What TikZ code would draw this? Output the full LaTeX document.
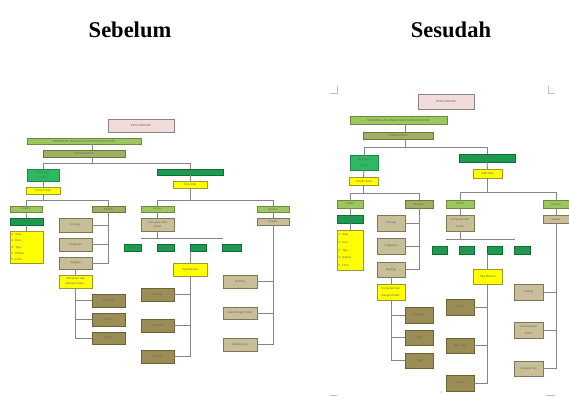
\documentclass[tikz,border=0pt]{standalone}
\usepackage{fontspec}
\setmainfont{Liberation Serif}
\newfontfamily\smallsans{Liberation Sans}
\definecolor{pinkc}{HTML}{F2DCDB}\definecolor{pinkb}{HTML}{8C8282}
\definecolor{lgc}{HTML}{9CC65E}\definecolor{lgb}{HTML}{6E8B3D}
\definecolor{ogc}{HTML}{A0AF63}\definecolor{ogb}{HTML}{6B7A3A}
\definecolor{bgc}{HTML}{2DB862}\definecolor{bgb}{HTML}{1F8A47}
\definecolor{dgc}{HTML}{1A9B4F}\definecolor{dgb}{HTML}{0E6E36}
\definecolor{ylc}{HTML}{FFFF00}\definecolor{ylb}{HTML}{9C9A2E}
\definecolor{tnc}{HTML}{C8BF98}\definecolor{tnb}{HTML}{7E7658}
\definecolor{dolc}{HTML}{9A8D55}\definecolor{dolb}{HTML}{6B6237}
\definecolor{lnc}{HTML}{858585}
\newcommand\lfont{\smallsans\fontsize{2.9}{4.6}\selectfont\color{black!60}}
\newcommand\rfont{\smallsans\fontsize{2.9}{6.8}\selectfont\color{black!60}}
\newcommand\obox[7]{\node[#2,minimum width={((#5)-(#3))*1pt},minimum height={((#6)-(#4))*1pt}] (#1) at ({((#3)+(#5))/2},{((#4)+(#6))/2}) {#7};}
\tikzset{
 bxs/.style={draw, line width=0.6pt, inner sep=0.4pt, outer sep=0pt, align=center},
 pk/.style={bxs, fill=pinkc, draw=pinkb},
 lg/.style={bxs, fill=lgc, draw=lgb},
 og/.style={bxs, fill=ogc, draw=ogb},
 bg/.style={bxs, fill=bgc, draw=bgb},
 dg/.style={bxs, fill=dgc, draw=dgb},
 yl/.style={bxs, fill=ylc, draw=ylb},
 tn/.style={bxs, fill=tnc, draw=tnb},
 dol/.style={bxs, fill=dolc, draw=dolb},
 ln/.style={draw=lnc, line width=0.9pt},
 pgmark/.style={draw=black!25, line width=0.5pt},
 ttl/.style={font=\bfseries\fontsize{22.5}{26}\selectfont, anchor=base, inner sep=0pt},
}
\begin{document}
\begin{tikzpicture}[x=1pt,y=-1pt]
\fill[white] (0,0) rectangle (569,399);
\useasboundingbox (0,0) rectangle (569,399);
\node[ttl] (T1) at (130,37) {Sebelum};
\node[ttl] (T2) at (451,37) {Sesudah};

% ================= LEFT (Sebelum) =================
\begin{scope}[every node/.append style={font=\lfont}]
\obox{L-peta}{pk}{108}{119}{174}{132}{PETA KONSEP}
\obox{L-g1}{lg}{27}{138}{141}{144}{MENGENAL BILANGAN DAN BANGUN DATAR}
\obox{L-g2}{og}{43}{150}{125}{157}{3 Materi Pokok}
\obox{L-c1}{bg}{27}{169}{59}{181}{Bilangan\\Cacah}
\obox{L-c2}{dg}{157}{169}{223}{175}{Bangun Datar}
\obox{L-y1}{yl}{26}{187}{60}{194}{Contoh Soal}
\obox{L-y2}{yl}{173}{181}{207}{188}{Sifat-Sifat}
\obox{L-a}{lg}{10}{206}{42}{212}{Angka}
\obox{L-b}{og}{92}{206}{125}{212}{Bentuk}
\obox{L-a2}{dg}{10}{218}{43}{225}{Lambang}
\obox{L-list}{yl,align=left,text width=30pt,font=\smallsans\fontsize{2.9}{6.3}\selectfont\color{black!60}}{10}{231}{43}{263}{1. Satu\\2. Dua\\3. Tiga\\4. Empat\\5. Lima}
\obox{L-t1}{tn}{59}{218}{92}{232}{Persegi}
\obox{L-t2}{tn}{59}{238}{92}{251}{Lingkaran}
\obox{L-t3}{tn}{59}{257}{92}{269}{Segitiga}
\obox{L-yk}{yl,align=left}{59}{275}{92}{288}{Kumpulan dari\\Bangun Datar}
\obox{L-d1}{dol}{92}{294}{125}{307}{Panjang}
\obox{L-d2}{dol}{92}{313}{125}{326}{Lebar}
\obox{L-d3}{dol}{92}{332}{125}{344}{Tinggi}
\obox{L-ra}{lg}{141}{206}{174}{212}{Unsur}
\obox{L-rb}{lg}{257}{206}{289}{212}{Ukuran}
\obox{L-rat}{tn}{141}{218}{174}{231}{Kumpulan dari\\Sudut}
\obox{L-rbt}{tn}{257}{218}{289}{225}{Satuan}
\obox{L-q1}{dg}{124}{244}{141}{251}{Sisi}
\obox{L-q2}{dg}{157}{244}{174}{251}{Sudut}
\obox{L-q3}{dg}{190}{244}{206}{251}{Titik}
\obox{L-q4}{dg}{222}{244}{241}{251}{Diagonal}
\obox{L-ym}{yl}{173}{263}{207}{276}{Tiga Macam}
\obox{L-rd1}{dol}{141}{288}{174}{301}{Lancip}
\obox{L-rd2}{dol}{141}{319}{174}{332}{Siku-siku}
\obox{L-rd3}{dol}{141}{350}{174}{363}{Tumpul}
\obox{L-rt1}{tn}{223}{275}{257}{288}{Keliling}
\obox{L-rt2}{tn}{223}{307}{257}{319}{Luas Bangun Datar}
\obox{L-rt3}{tn}{223}{338}{257}{351}{Panjang Sisi}
\end{scope}
\coordinate (L-j0) at (92,163);
\coordinate (L-j1) at (0,200);
\coordinate (L-h1) at (141,238);
\coordinate (L-h2) at (223,238);
\draw[ln] (L-g1.south -| L-j0) -- (L-g2.north -| L-j0);
\draw[ln] (L-g2.south -| L-j0) -- (L-j0);
\draw[ln] (L-c1.north) -- (L-c1.north |- L-j0) -- (L-c2.north |- L-j0) -- (L-c2.north);
\draw[ln] (L-c1.south) -- (L-y1.north);
\draw[ln] (L-c2.south) -- (L-y2.north);
\draw[ln] (L-y1.south) -- (L-y1.south |- L-j1);
\draw[ln] (L-a.north) -- (L-a.north |- L-j1) -- (L-b.north |- L-j1) -- (L-b.north);
\draw[ln] (L-a.south) -- (L-a2.north);
\draw[ln] (L-a2.south) -- (L-list.north);
\draw[ln] (L-b.south) -- (L-b.south |- L-t3.east) -- (L-t3.east);
\draw[ln] (L-t1.east) -- (L-t1.east -| L-b.south);
\draw[ln] (L-t2.east) -- (L-t2.east -| L-b.south);
\draw[ln] (L-t3.south) -- (L-yk.north);
\draw[ln] (L-yk.south) -- (L-yk.south |- L-d3.west) -- (L-d3.west);
\draw[ln] (L-d1.west -| L-yk.south) -- (L-d1.west);
\draw[ln] (L-d2.west -| L-yk.south) -- (L-d2.west);
\draw[ln] (L-y2.south) -- (L-y2.south |- L-j1);
\draw[ln] (L-ra.north) -- (L-ra.north |- L-j1) -- (L-rb.north |- L-j1) -- (L-rb.north);
\draw[ln] (L-ra.south) -- (L-rat.north);
\draw[ln] (L-rb.south) -- (L-rbt.north);
\draw[ln] (L-rat.south) -- (L-rat.south |- L-h1);
\draw[ln] (L-h1) -- (L-h2);
\draw[ln] (L-ym.north) -- (L-ym.north |- L-q3.south);
\draw[ln] (L-ym.south) -- (L-ym.south |- L-rd3.east) -- (L-rd3.east);
\draw[ln] (L-rd1.east) -- (L-rd1.east -| L-ym.south);
\draw[ln] (L-rd2.east) -- (L-rd2.east -| L-ym.south);
\draw[ln] (L-rbt.south) -- (L-rbt.south |- L-rt3.east) -- (L-rt3.east);
\draw[ln] (L-rt1.east) -- (L-rt1.east -| L-rbt.south);
\draw[ln] (L-rt2.east) -- (L-rt2.east -| L-rbt.south);

% ================= RIGHT (Sesudah) =================
\draw[pgmark] (337,86) -- (337,93) -- (330,93);
\draw[pgmark] (548,86) -- (548,93) -- (555,93);
\draw[pgmark] (330,395) -- (337,395);
\draw[pgmark] (546,395) -- (555,395);
\node[font=\smallsans\fontsize{2.6}{3}\selectfont\color{black!45}, inner sep=0pt] (R-pg) at (441,393) {4};
\begin{scope}[every node/.append style={font=\rfont}]
\obox{R-peta}{pk}{418}{94}{474}{109}{PETA KONSEP}
\obox{R-g1}{lg}{350}{116}{447}{124}{MENGENAL BILANGAN DAN BANGUN DATAR}
\obox{R-g2}{og}{363}{132}{433}{139}{3 Materi Pokok}
\obox{R-c1}{bg}{350}{155}{378}{170}{Bilangan\\Cacah}
\obox{R-c2}{dg}{459}{154}{515}{162}{Bangun Datar}
\obox{R-y1}{yl}{349}{177}{378}{185}{Contoh Soal}
\obox{R-y2}{yl}{473}{169}{502}{178}{Sifat-Sifat}
\obox{R-a}{lg}{337}{200}{363}{208}{Angka}
\obox{R-b}{og}{405}{200}{433}{208}{Bentuk}
\obox{R-a2}{dg}{337}{215}{363}{223}{Lambang}
\obox{R-list}{yl,align=left,text width=23pt,font=\smallsans\fontsize{2.9}{7.6}\selectfont\color{black!60}}{337}{230}{363}{270}{1. Satu\\2. Dua\\3. Tiga\\4. Empat\\5. Lima}
\obox{R-t1}{tn}{377}{215}{405}{231}{Persegi}
\obox{R-t2}{tn}{377}{238}{405}{254}{Lingkaran}
\obox{R-t3}{tn}{377}{262}{405}{277}{Segitiga}
\obox{R-yk}{yl,align=left}{377}{284}{405}{300}{Kumpulan dari\\Bangun Datar}
\obox{R-d1}{dol}{405}{307}{433}{323}{Panjang}
\obox{R-d2}{dol}{405}{330}{433}{345}{Lebar}
\obox{R-d3}{dol}{405}{353}{433}{368}{Tinggi}
\obox{R-ra}{lg}{446}{200}{474}{208}{Unsur}
\obox{R-rb}{lg}{543}{200}{569}{208}{Ukuran}
\obox{R-rat}{tn}{446}{215}{474}{231}{Kumpulan dari\\Sudut}
\obox{R-rbt}{tn}{543}{215}{569}{223}{Satuan}
\obox{R-q1}{dg}{432}{246}{447}{254}{Sisi}
\obox{R-q2}{dg}{459}{246}{474}{254}{Sudut}
\obox{R-q3}{dg}{487}{246}{502}{254}{Titik}
\obox{R-q4}{dg}{514}{246}{530}{254}{Diagonal}
\obox{R-ym}{yl}{473}{269}{502}{284}{Tiga Macam}
\obox{R-rd1}{dol}{446}{299}{474}{315}{Lancip}
\obox{R-rd2}{dol}{446}{338}{474}{353}{Siku-siku}
\obox{R-rd3}{dol}{446}{375}{474}{391}{Tumpul}
\obox{R-rt1}{tn}{514}{284}{543}{300}{Keliling}
\obox{R-rt2}{tn}{514}{322}{543}{338}{Luas Bangun\\Datar}
\obox{R-rt3}{tn}{514}{361}{543}{376}{Panjang Sisi}
\end{scope}
\coordinate (R-j0) at (405,147);
\coordinate (R-j1) at (0,193);
\coordinate (R-j2) at (0,192);
\coordinate (R-h1) at (446,239);
\coordinate (R-h2) at (515,239);
\draw[ln] (R-g1.south -| R-j0) -- (R-g2.north -| R-j0);
\draw[ln] (R-g2.south -| R-j0) -- (R-j0);
\draw[ln] (R-c1.north) -- (R-c1.north |- R-j0) -- (R-c2.north |- R-j0) -- (R-c2.north);
\draw[ln] (R-c1.south) -- (R-y1.north);
\draw[ln] (R-c2.south) -- (R-y2.north);
\draw[ln] (R-y1.south) -- (R-y1.south |- R-j1);
\draw[ln] (R-a.north) -- (R-a.north |- R-j1) -- (R-b.north |- R-j1) -- (R-b.north);
\draw[ln] (R-a.south) -- (R-a2.north);
\draw[ln] (R-a2.south) -- (R-list.north);
\draw[ln] (R-b.south) -- (R-b.south |- R-t3.east) -- (R-t3.east);
\draw[ln] (R-t1.east) -- (R-t1.east -| R-b.south);
\draw[ln] (R-t2.east) -- (R-t2.east -| R-b.south);
\draw[ln] (R-t3.south) -- (R-yk.north);
\draw[ln] (R-yk.south) -- (R-yk.south |- R-d3.west) -- (R-d3.west);
\draw[ln] (R-d1.west -| R-yk.south) -- (R-d1.west);
\draw[ln] (R-d2.west -| R-yk.south) -- (R-d2.west);
\draw[ln] (R-y2.south) -- (R-y2.south |- R-j2);
\draw[ln] (R-ra.north) -- (R-ra.north |- R-j2) -- (R-rb.north |- R-j2) -- (R-rb.north);
\draw[ln] (R-ra.south) -- (R-rat.north);
\draw[ln] (R-rb.south) -- (R-rbt.north);
\draw[ln] (R-rat.south) -- (R-rat.south |- R-h1);
\draw[ln] (R-h1) -- (R-h2);
\draw[ln] (R-ym.north) -- (R-ym.north |- R-q3.south);
\draw[ln] (R-ym.south) -- (R-ym.south |- R-rd3.east) -- (R-rd3.east);
\draw[ln] (R-rd1.east) -- (R-rd1.east -| R-ym.south);
\draw[ln] (R-rd2.east) -- (R-rd2.east -| R-ym.south);
\draw[ln] (R-rbt.south) -- (R-rbt.south |- R-rt3.east) -- (R-rt3.east);
\draw[ln] (R-rt1.east) -- (R-rt1.east -| R-rbt.south);
\draw[ln] (R-rt2.east) -- (R-rt2.east -| R-rbt.south);
\end{tikzpicture}
\end{document}
